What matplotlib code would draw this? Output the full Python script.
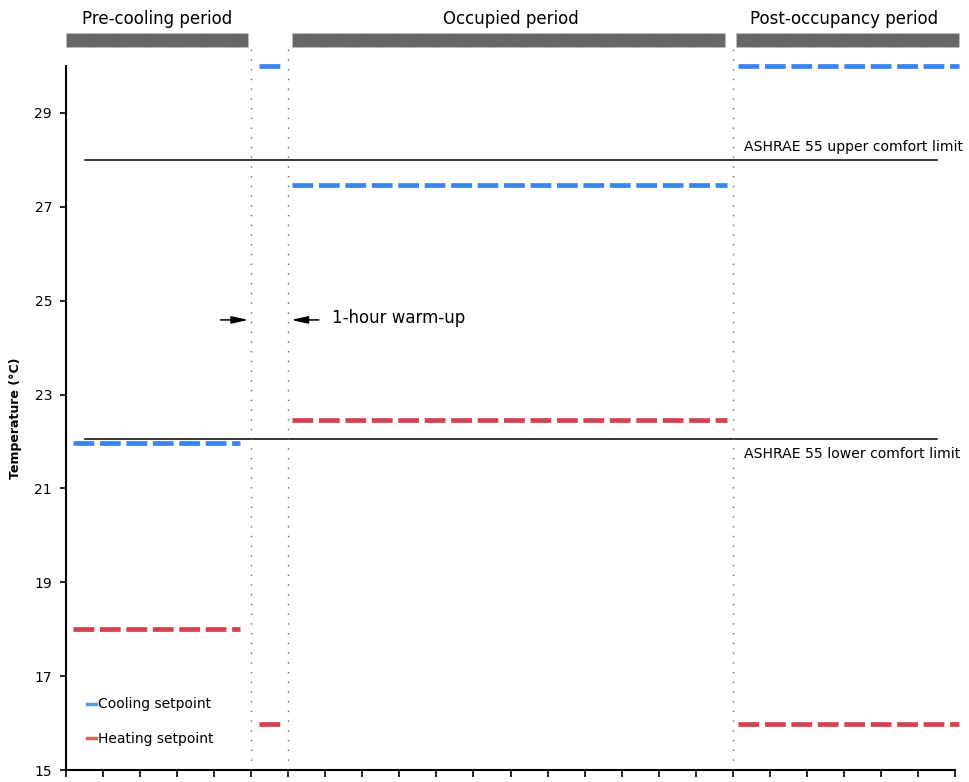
import matplotlib.pyplot as plt
from matplotlib.patches import Rectangle
from matplotlib.lines import Line2D

# hours of the day on x, temperature (C) on y
period_names = ["Pre-cooling period", "Occupied period", "Post-occupancy period"]
period_bars = [(0.0, 4.9), (6.1, 17.8), (18.1, 24.1)]
period_label_x = [2.45, 12.0, 21.0]
boundaries = [5, 6, 18]

# setpoint segments: (start hour, end hour, temperature)
cooling = [(0.2, 4.7, 21.97), (5.2, 5.8, 30.0), (6.1, 17.85, 27.47), (18.15, 24.1, 30.0)]
heating = [(0.2, 4.7, 18.0), (5.2, 5.8, 15.98), (6.1, 17.85, 22.45), (18.15, 24.1, 15.98)]

upper_limit = 28.0
lower_limit = 22.05
limit_span = (0.5, 23.5)

blue = "#3a83f0"
red = "#d7404e"

fig = plt.figure(figsize=(9.69, 7.82), dpi=100)
ax = fig.add_axes([0.0681, 0.0153, 0.9175, 0.9003])
ax.set_xlim(0, 24)
ax.set_ylim(15, 30)

# ashrae comfort band edges
ax.plot(limit_span, [upper_limit, upper_limit], color="black", lw=1.1)
ax.plot(limit_span, [lower_limit, lower_limit], color="black", lw=1.1)
ax.text(18.3, upper_limit + 0.12, "ASHRAE 55 upper comfort limit", fontsize=10.1, va="bottom")
ax.text(18.3, lower_limit - 0.17, "ASHRAE 55 lower comfort limit", fontsize=10.1, va="top")

for x0, x1, t in cooling:
    ax.plot([x0, x1], [t, t], color=blue, lw=3.4, dashes=(4.4, 1.2), solid_capstyle="butt",
            dash_capstyle="butt", clip_on=False)
for x0, x1, t in heating:
    ax.plot([x0, x1], [t, t], color=red, lw=3.4, dashes=(4.4, 1.2), solid_capstyle="butt",
            dash_capstyle="butt", clip_on=False)

# period boundaries
for b in boundaries:
    ax.plot([b, b], [15, 30.45], color="#666666", lw=1, linestyle=(0, (1, 6)), clip_on=False)

# period bars + labels above the plot
for (x0, x1), name, lx in zip(period_bars, period_names, period_label_x):
    ax.add_patch(Rectangle((x0, 30.41), x1 - x0, 0.29, facecolor="#666666", edgecolor="#c8c8c8",
                           lw=0.8, linestyle=":", clip_on=False))
    ax.text(lx, 31.0, name, ha="center", va="center", fontsize=12)

# warm-up arrows
arrow_style = dict(arrowstyle="-|>,head_length=1.0,head_width=0.22", color="black", lw=1.1)
ax.annotate("", xy=(5.0, 24.59), xytext=(4.1, 24.59), arrowprops=arrow_style)
ax.annotate("", xy=(6.0, 24.59), xytext=(6.9, 24.59), arrowprops=arrow_style)
ax.text(7.18, 24.63, "1-hour warm-up", fontsize=12, va="center")

ax.set_yticks(range(15, 30, 2))
ax.set_xticks(range(0, 25))
ax.set_xticklabels([])
ax.tick_params(axis="y", labelsize=10, length=4, width=1.2, pad=6)
ax.tick_params(axis="x", length=5, width=1.2)
ax.spines["top"].set_visible(False)
ax.spines["right"].set_visible(False)
ax.spines["left"].set_linewidth(1.5)
ax.spines["bottom"].set_linewidth(1.5)
ax.set_ylabel("Temperature (°C)", fontsize=9, fontweight="bold", labelpad=9)

handles = [Line2D([], [], color="#5b9bd5", lw=2.5), Line2D([], [], color="#d9675b", lw=2.5)]
ax.legend(handles, ["Cooling setpoint", "Heating setpoint"], loc="lower left",
          bbox_to_anchor=(0.01, 0.017), frameon=False, fontsize=10, handlelength=0.6,
          handletextpad=0.2, labelspacing=1.45)

fig.savefig("out.png", dpi=100)
